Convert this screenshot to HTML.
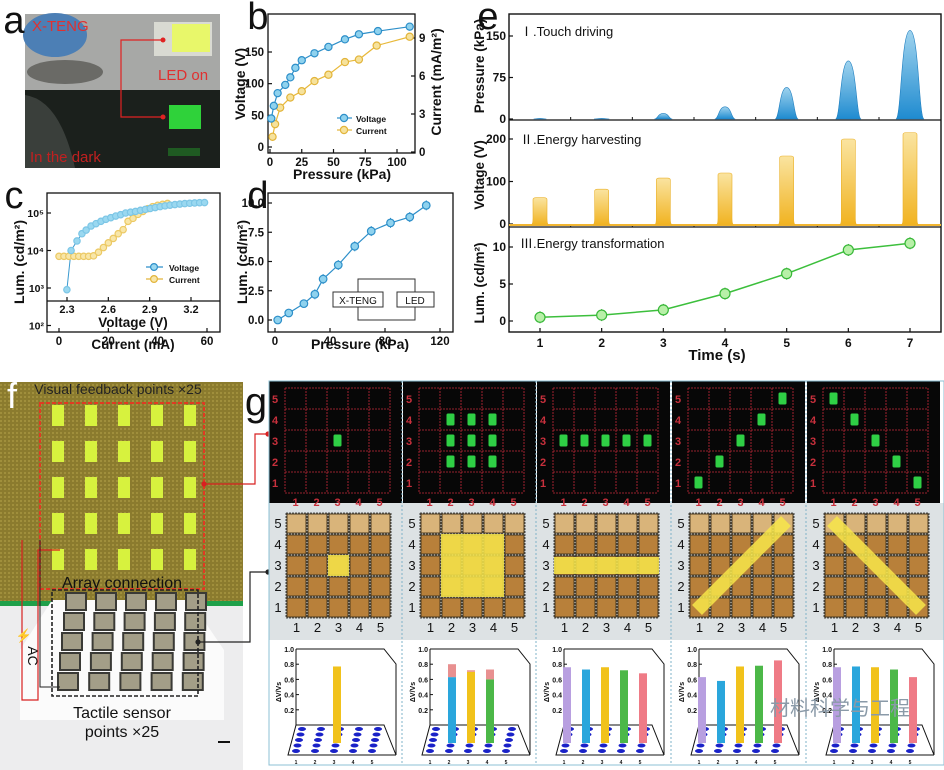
<!DOCTYPE html>
<html><head><meta charset="utf-8"><style>
html,body{margin:0;padding:0;background:#fff}
svg{display:block}
text{font-family:"Liberation Sans","Noto Sans CJK SC",sans-serif}
</style></head><body>
<svg id="fig" xmlns="http://www.w3.org/2000/svg" width="944" height="770" viewBox="0 0 944 770">
<defs>
<linearGradient id="gBlue" x1="0" y1="0" x2="0" y2="1"><stop offset="0" stop-color="#9fd3ee"/><stop offset="1" stop-color="#1f8bd0"/></linearGradient>
<linearGradient id="gYel" x1="0" y1="0" x2="0" y2="1"><stop offset="0" stop-color="#fae4a0"/><stop offset="1" stop-color="#f1b321"/></linearGradient>
<pattern id="weave" width="4" height="4" patternUnits="userSpaceOnUse"><rect width="4" height="4" fill="#8b7b2e"/><rect width="2" height="2" fill="#a08f3c"/></pattern>
</defs>
<g id="root"></g>
</svg>
<script>
// ---- panel b data
const bVP=[1,3,6,12,16,20,25,35,46,59,70,85,110];
const bV=[45,65,85,98,110,125,137,148,158,170,178,183,190];
const bCP=[2,4,8,16,25,35,46,59,70,84,110];
const bC=[1.2,2.2,3.5,4.3,4.8,5.6,6.1,7.1,7.3,8.4,9.1];
// ---- panel c data (x in current-axis units, lum)
const cVX=[3.2,4.9,7.3,9.3,11,13,15,17,19,21,23,25,27,29,31,33,35,37,39,41,43,45,47,49,51,53,55,57,59];
const cVL=[900,10000,18000,28000,35000,45000,52000,60000,68000,75000,83000,90000,100000,105000,110000,118000,125000,132000,140000,148000,155000,162000,168000,173000,178000,182000,185000,188000,190000];
const cCX=[0,2,4,6,8,10,12,14,16,18,20,22,24,26,28,30,32,34,36,38,40,42,44];
const cCL=[7000,7000,7000,7000,7000,7000,7000,7200,9000,12000,16000,21000,28000,36000,60000,72000,92000,110000,130000,148000,160000,170000,180000];
// ---- panel d data
const dP=[2,10,21,29,35,46,58,70,84,98,110];
const dL=[0,0.6,1.4,2.2,3.5,4.7,6.3,7.6,8.3,8.8,9.8];
// ---- panel e data
const eT=[1,2,3,4,5,6,7];
const ePres=[1,1,10,22,57,105,160];
const eVolt=[62,82,108,120,160,200,215];
const eLum=[0.5,0.8,1.5,3.7,6.4,9.6,10.5];
// ---- panel g data
const gVals=[[0,0,0.77,0,0],[0,0.63,0.7,0.6,0],[0.76,0.73,0.76,0.72,0.68],[0.63,0.58,0.77,0.78,0.85],[0.76,0.77,0.76,0.73,0.63]];
const gCaps=[[0,0,0,0,0],[0,0.8,0.72,0.73,0],[0,0,0,0,0],[0,0,0,0,0],[0,0,0,0,0]];
const gLit=[[[3,3]],[[2,2],[3,2],[4,2],[2,3],[3,3],[4,3],[2,4],[3,4],[4,4]],[[1,3],[2,3],[3,3],[4,3],[5,3]],[[1,1],[2,2],[3,3],[4,4],[5,5]],[[1,5],[2,4],[3,3],[4,2],[5,1]]];
const barColors=["#b89fe0","#2aa6dc","#f1c21b","#4cb848","#ef7b86"];

const NS="http://www.w3.org/2000/svg";
const root=document.getElementById('root');
function el(tag,attrs,parent,txt){const e=document.createElementNS(NS,tag);for(const k in attrs)e.setAttribute(k,attrs[k]);if(txt!==undefined)e.textContent=txt;(parent||root).appendChild(e);return e;}
function G(name,parent){const g=el('g',{},parent);


return g;}
function T(x,y,s,size,parent,opt){opt=opt||{};const t=el('text',{x:x,y:y,'font-size':size,'font-weight':opt.w||'bold','text-anchor':opt.a||'middle',fill:opt.f||'#111'},parent,s);if(opt.rot)t.setAttribute('transform','rotate('+opt.rot+' '+x+' '+y+')');


return t;}
function lin(d0,d1,p0,p1){return v=>p0+(v-d0)*(p1-p0)/(d1-d0);}
function line(x1,y1,x2,y2,c,w,p,extra){const l=el('line',Object.assign({x1,y1,x2,y2,stroke:c,'stroke-width':w||1},extra||{}),p);return l;}
function poly(xs,ys,c,p,w){el('polyline',{points:xs.map((x,i)=>x+','+ys[i]).join(' '),fill:'none',stroke:c,'stroke-width':w||1.2},p);}
function circ(x,y,r,fill,stroke,p,name){const c=el('circle',{cx:x,cy:y,r:r,fill:fill,stroke:stroke,'stroke-width':1.2},p);


return c;}

// ================= Panel a (photo)
(function(){const g=G('panel-a-photo');
el('rect',{x:25,y:14,width:195,height:76,fill:'#a7a8a6'},g);
el('rect',{x:25,y:90,width:195,height:78,fill:'#1b201c'},g);
el('ellipse',{cx:55,cy:35,rx:32,ry:22,fill:'#4c7fb5'},g);
el('ellipse',{cx:65,cy:72,rx:38,ry:12,fill:'#6a6a66'},g);
el('path',{d:'M25 95 Q60 100 75 168 L25 168Z',fill:'#3a3f3b'},g);
el('rect',{x:154,y:22,width:58,height:34,fill:'#d9dad2'},g);
el('rect',{x:172,y:24,width:38,height:28,fill:'#e8f76a'},g);
el('rect',{x:169,y:105,width:32,height:24,fill:'#2fd23a'},g);
el('rect',{x:168,y:148,width:32,height:8,fill:'#1f5a22'},g);
poly([163,121,121,163],[40,40,117,117],'#e02222',g,1.2);
circ(163,40,2.5,'#e02222','none',g,'connector-dot');circ(163,117,2.5,'#e02222','none',g,'connector-dot');
T(32,31,'X-TENG',15,g,{a:'start',f:'#e03030',w:'normal',name:'x-teng-label'});
T(158,80,'LED on',15,g,{a:'start',f:'#e03030',w:'normal',name:'led-on-label'});
T(30,162,'In the dark',15,g,{a:'start',f:'#c02020',w:'normal',name:'in-the-dark-label'});
T(14,33,'a',38,null,{a:'middle',w:'normal',name:'panel-a-letter'});
})();

// ================= Panel b
(function(){const g=G('panel-b-chart');
const L=268,R=415,Tp=14,B=153;
const x=lin(0,100,270,397),yV=lin(0,150,147,52),yC=lin(0,9,152,38);
el('rect',{x:L,y:Tp,width:R-L,height:B-Tp,fill:'none',stroke:'#111','stroke-width':1.3},g);
[0,25,50,75,100].forEach(v=>{line(x(v),B,x(v),B-4,'#111',1.2,g);T(x(v),B+13,v,11.5,g,{name:'x-tick-label'});});
[0,50,100,150].forEach(v=>{line(L,yV(v),L+4,yV(v),'#111',1.2,g);T(L-4,yV(v)+4,v,11.5,g,{a:'end',name:'y-tick-label'});});
[0,3,6,9].forEach(v=>{line(R,yC(v),R-4,yC(v),'#111',1.2,g);T(R+4,yC(v)+4,v,11.5,g,{a:'start',name:'y2-tick-label'});});
T(342,179,'Pressure (kPa)',14,g,{name:'x-axis-title'});
T(245,84,'Voltage (V)',14,g,{rot:-90,name:'y-axis-title'});
T(441,82,'Current (mA/m²)',14,g,{rot:-90,name:'y2-axis-title'});
poly(bVP.map(x),bV.map(yV),'#2d8fc9',g);
poly(bCP.map(x),bC.map(yC),'#e8b93a',g);
bCP.forEach((p,i)=>circ(x(p),yC(bC[i]),3.6,'#f6e29c','#e2b43a',g,'current-point'));
bVP.forEach((p,i)=>circ(x(p),yV(bV[i]),3.6,'#8fd2ee','#2d8fc9',g,'voltage-point'));
line(337,118,352,118,'#2d8fc9',1.2,g);circ(344,118,3.6,'#8fd2ee','#2d8fc9',g,'legend-voltage-marker');T(356,122,'Voltage',8.5,g,{a:'start',name:'legend-voltage'});
line(337,130,352,130,'#e2b43a',1.2,g);circ(344,130,3.6,'#f6e29c','#e2b43a',g,'legend-current-marker');T(356,134,'Current',8.5,g,{a:'start',name:'legend-current'});
T(258,29,'b',38,null,{w:'normal',name:'panel-b-letter'});
})();

// ================= Panel c
(function(){const g=G('panel-c-chart');
const L=47,R=220,Tp=193,B=332;
const x=lin(0,60,59,207),y=v=>288-(Math.log10(v)-3)*37.5;
el('rect',{x:L,y:Tp,width:R-L,height:B-Tp,fill:'none',stroke:'#111','stroke-width':1.3},g);
line(L,301,R,301,'#111',1.3,g);
[0,20,40,60].forEach(v=>{line(x(v),B,x(v),B-4,'#111',1.2,g);T(x(v),B+13,v,11.5,g,{name:'x-tick-label'});});
const xv=lin(2.3,3.2,67,191);
[2.3,2.6,2.9,3.2].forEach(v=>{line(xv(v),301,xv(v),297,'#111',1.2,g);T(xv(v),313,v.toFixed(1),11,g,{name:'voltage-tick-label'});});
T(133,327,'Voltage (V)',13.5,g,{name:'voltage-axis-title'});
T(133,349,'Current (mA)',13.5,g,{name:'x-axis-title'});
[[2,'10²'],[3,'10³'],[4,'10⁴'],[5,'10⁵']].forEach(a=>{const yy=288-(a[0]-3)*37.5;line(L,yy,L+4,yy,'#111',1.2,g);T(L-3,yy+4,a[1],10.5,g,{a:'end',name:'y-tick-label'});});
T(24,262,'Lum. (cd/m²)',14,g,{rot:-90,name:'y-axis-title'});
poly(cCX.map(x),cCL.map(y),'#e8c65a',g,1);
poly(cVX.map(x),cVL.map(y),'#3a9ad0',g,1);
cCX.forEach((p,i)=>circ(x(p),y(cCL[i]),3.2,'#f8e6a8','#ecc964',g,'current-point'));
cVX.forEach((p,i)=>circ(x(p),y(cVL[i]),3.2,'#9ad8f0','#7cc6e6',g,'voltage-point'));
line(146,267,163,267,'#2d8fc9',1.2,g);circ(154,267,3.4,'#9ad8f0','#2d8fc9',g,'legend-voltage-marker');T(169,271,'Voltage',8.5,g,{a:'start',name:'legend-voltage'});
line(146,279,163,279,'#e2b43a',1.2,g);circ(154,279,3.4,'#f8e6a8','#e2b43a',g,'legend-current-marker');T(169,283,'Current',8.5,g,{a:'start',name:'legend-current'});
T(14,208,'c',38,null,{w:'normal',name:'panel-c-letter'});
})();

// ================= Panel d
(function(){const g=G('panel-d-chart');
const L=268,R=453,Tp=193,B=332;
const x=lin(0,120,275,440),y=lin(0,10,320,203);
el('rect',{x:L,y:Tp,width:R-L,height:B-Tp,fill:'none',stroke:'#111','stroke-width':1.3},g);
[0,40,80,120].forEach(v=>{line(x(v),B,x(v),B-4,'#111',1.2,g);T(x(v),B+13,v,11.5,g,{name:'x-tick-label'});});
[0,2.5,5,7.5,10].forEach(v=>{line(L,y(v),L+4,y(v),'#111',1.2,g);T(L-4,y(v)+4,v.toFixed(1),11.5,g,{a:'end',name:'y-tick-label'});});
T(360,349,'Pressure (kPa)',14,g,{name:'x-axis-title'});
T(247,262,'Lum. (cd/m²)',14,g,{rot:-90,name:'y-axis-title'});
// inset circuit
el('rect',{x:358,y:279,width:57,height:41,fill:'none',stroke:'#333','stroke-width':1},g);
el('rect',{x:333,y:292,width:50,height:15,fill:'#fff',stroke:'#333','stroke-width':1},g);
el('rect',{x:397,y:292,width:37,height:15,fill:'#fff',stroke:'#333','stroke-width':1},g);
T(358,304,'X-TENG',10,g,{w:'normal',name:'inset-x-teng'});T(415,304,'LED',10,g,{w:'normal',name:'inset-led'});
poly(dP.map(x),dL.map(y),'#2d8fc9',g);
dP.forEach((p,i)=>{const yy=y(dL[i]);if(i>2){line(x(p),yy-5,x(p),yy+5,'#2d8fc9',1,g);}circ(x(p),yy,3.8,'#8fd2ee','#2d8fc9',g,'lum-point');});
T(258,208,'d',38,null,{w:'normal',name:'panel-d-letter'});
})();

// ================= Panel e
(function(){const g=G('panel-e-chart');
const L=509,R=941;
const x=lin(1,7,540,910);
el('rect',{x:L,y:14,width:R-L,height:318,fill:'none',stroke:'#111','stroke-width':1.4},g);
line(L,120,R,120,'#111',1.3,g);line(L,227,R,227,'#111',1.3,g);
[1,2,3,4,5,6,7].forEach(v=>{line(x(v),332,x(v),328,'#111',1.2,g);T(x(v),347,v,12,g,{name:'x-tick-label'});line(x(v)-31,120,x(v)-31,117,'#111',1,g);line(x(v)-31,227,x(v)-31,224,'#111',1,g);});
T(717,360,'Time (s)',15,g,{name:'x-axis-title'});
// pressure
const yP=lin(0,150,119,36);
[0,75,150].forEach(v=>{line(L,yP(v),L+4,yP(v),'#111',1.2,g);T(L-3,yP(v)+4,v,12,g,{a:'end',name:'pressure-tick'});});
T(484,66,'Pressure (kPa)',13.5,g,{rot:-90,name:'pressure-axis-title'});
eT.forEach((t,i)=>{const cx=x(t),h=yP(ePres[i]),w=4+i*0.8;
const p=el('path',{d:`M${cx-w*1.6} 119 C${cx-w} 119 ${cx-w} ${h} ${cx} ${h} C${cx+w} ${h} ${cx+w} 119 ${cx+w*1.6} 119Z`,fill:'url(#gBlue)',stroke:'#1f7fc0','stroke-width':0.6},g);

});
T(520,36,'Ⅰ.Touch  driving',13,g,{a:'start',w:'normal',name:'touch-driving-label'});
// voltage
const yVv=lin(0,200,224,139);
[0,100,200].forEach(v=>{line(L,yVv(v),L+4,yVv(v),'#111',1.2,g);T(L-3,yVv(v)+4,v,12,g,{a:'end',name:'voltage-tick'});});
T(484,175,'Voltage (V)',13.5,g,{rot:-90,name:'voltage-axis-title'});
line(L,225,R,225,'#f2b632',2,g);
eT.forEach((t,i)=>{const cx=x(t),h=yVv(eVolt[i]),w=7;
const p=el('path',{d:`M${cx-w-2} 225 Q${cx-w} 225 ${cx-w} 218 L${cx-w} ${h+2} Q${cx-w} ${h} ${cx-w+3} ${h} L${cx+w-3} ${h} Q${cx+w} ${h} ${cx+w} ${h+2} L${cx+w} 218 Q${cx+w} 225 ${cx+w+2} 225Z`,fill:'url(#gYel)',stroke:'#eab028','stroke-width':0.6},g);

});
T(520,144,'Ⅱ.Energy harvesting',13,g,{a:'start',w:'normal',name:'energy-harvesting-label'});
// lum
const yL=lin(0,10,321,247);
[0,5,10].forEach(v=>{line(L,yL(v),L+4,yL(v),'#111',1.2,g);T(L-3,yL(v)+4,v,12,g,{a:'end',name:'lum-tick'});});
T(484,283,'Lum. (cd/m²)',13.5,g,{rot:-90,name:'lum-axis-title'});
poly(eT.map(x),eLum.map(yL),'#3cbf3c',g,1.5);
eT.forEach((t,i)=>{const yy=yL(eLum[i]);line(x(t),yy-6,x(t),yy+6,'#2a8f2a',1,g);circ(x(t),yy,5,'#b8f0a8','#38b838',g,'lum-point');});
T(520,248,'Ⅲ.Energy transformation',13,g,{a:'start',w:'normal',name:'energy-transformation-label'});
T(488,29,'e',38,null,{w:'normal',name:'panel-e-letter'});
})();

// ================= Panel f (photo)
(function(){const g=G('panel-f-photo');
el('rect',{x:0,y:382,width:243,height:222,fill:'url(#weave)'},g);
el('rect',{x:0,y:601,width:243,height:5,fill:'#1fa04a'},g);
el('rect',{x:0,y:606,width:243,height:164,fill:'#ededee'},g);
el('path',{d:'M52 600 L190 600 L224 650 L224 720 L20 720 L20 650Z',fill:'#fbfbfb'},g);
el('rect',{x:40,y:403,width:164,height:186,fill:'none',stroke:'#e03a22','stroke-width':2,'stroke-dasharray':'4 2'},g);
for(let r=0;r<5;r++)for(let c=0;c<5;c++){const rr=el('rect',{x:52+c*33,y:405+r*36,width:12,height:21,fill:'#d7f23e'},g);

}
for(let r=0;r<5;r++)for(let c=0;c<5;c++){const rr=el('rect',{x:66+c*30-r*2+r*0.3*c,y:593+r*20,width:20,height:17,fill:'#a39e88',stroke:'#3a3a36','stroke-width':2},g);

}
el('rect',{x:52,y:590,width:146,height:106,fill:'none',stroke:'#222','stroke-width':1.6,'stroke-dasharray':'4 2'},g);
poly([22,22,38,38,60],[540,700,700,550,550],'#d82020',g,1.2);
poly([40,40,60],[540,687,687],'#222',g,1);
T(118,394,'Visual feedback points ×25',14,g,{w:'normal',f:'#222',name:'visual-feedback-label'});
T(122,588,'Array connection',16,g,{w:'normal',name:'array-connection-label'});
T(122,718,'Tactile sensor',16,g,{w:'normal',name:'tactile-sensor-label'});
T(122,737,'points ×25',16,g,{w:'normal',name:'points-label'});
T(24,640,'⚡',13,g,{f:'#f4c020',name:'ac-icon'});
T(28,656,'AC',14,g,{w:'normal',rot:90,name:'ac-label'});
line(218,742,230,742,'#111',2,g);
T(12,408,'f',36,null,{w:'normal',f:'#fff',name:'panel-f-letter'});
// connectors to g
poly([204,255,255,268],[484,484,434,434],'#d82020',g,1.2);circ(204,484,2.6,'#d82020','none',g,'connector-dot');circ(268,434,2.6,'#d82020','none',g,'connector-dot');
poly([198,250,250,268],[642,642,572,572],'#222',g,1.2);circ(198,642,2.6,'#222','none',g,'connector-dot');circ(268,572,2.6,'#222','none',g,'connector-dot');
})();

// ================= Panel g
(function(){const g=G('panel-g');
T(256,415,'g',40,null,{w:'normal',name:'panel-g-letter'});
const colX=[269,403,537,672,807],W=133;
el('rect',{x:269,y:503,width:675,height:137,fill:'#dde2e4'},g);
colX.forEach((cx,k)=>{
 const col=G('g-column-'+(k+1),g);
 // dark LED panel
 el('rect',{x:cx,y:381,width:W,height:122,fill:'#070707'},col);
 const gx=cx+16,gy=388,cw=21,ch=21;
 for(let i=0;i<=5;i++){line(gx+i*cw,gy,gx+i*cw,gy+5*ch,'#c62a3a',0.8,col,{'stroke-dasharray':'2 1'});line(gx,gy+i*ch,gx+5*cw,gy+i*ch,'#c62a3a',0.8,col,{'stroke-dasharray':'2 1'});}
 for(let i=1;i<=5;i++){T(cx+6,gy+(5-i)*ch+15,i,11,col,{f:'#c8303c',name:'led-row-label'});T(gx+(i-0.5)*cw,gy+5*ch+13,i,11,col,{f:'#c8303c',name:'led-col-label'});}
 gLit[k].forEach(p=>{const r=el('rect',{x:gx+(p[0]-0.5)*cw-4,y:gy+(5-p[1]+0.5)*ch-6,width:8,height:12,rx:1.5,fill:'#2fcf45'},col);
 
 });
 // sensor photo
 const px=cx+17,py=513,pw=21,ph=21;
 for(let r=0;r<5;r++)for(let c=0;c<5;c++){el('rect',{x:px+c*pw+1,y:py+r*ph+1,width:pw-2,height:ph-2,fill:r==0?'#d9b47a':'#b8803a',stroke:'#4a3a20','stroke-width':1},col);}
 for(let i=0;i<=5;i++){line(px+i*pw,py,px+i*pw,py+5*ph,'#222',0.8,col,{'stroke-dasharray':'2 1'});line(px,py+i*ph,px+5*pw,py+i*ph,'#222',0.8,col,{'stroke-dasharray':'2 1'});}
 for(let i=1;i<=5;i++){T(cx+9,py+(5-i)*ph+15,i,13,col,{w:'normal',name:'sensor-row-label'});T(px+(i-0.5)*pw,py+5*ph+14,i,13,col,{w:'normal',name:'sensor-col-label'});}
 const ov={fill:'#f7e64a','fill-opacity':0.85};
 if(k==0)el('rect',Object.assign({x:px+2*pw,y:py+2*ph,width:pw,height:ph},ov),col);
 if(k==1)el('rect',Object.assign({x:px+pw,y:py+pw,width:3*pw,height:3*ph},ov),col);
 if(k==2)el('rect',Object.assign({x:px,y:py+2*ph+2,width:5*pw,height:ph-4},ov),col);
 if(k==3)el('line',{x1:px+8,y1:py+5*ph-8,x2:px+5*pw-8,y2:py+8,stroke:'#f7e64a','stroke-width':14,'stroke-opacity':0.85},col);
 if(k==4)el('line',{x1:px+8,y1:py+8,x2:px+5*pw-8,y2:py+5*ph-8,stroke:'#f7e64a','stroke-width':14,'stroke-opacity':0.85},col);
 // bar chart
 el('rect',{x:cx,y:641,width:W,height:124,fill:'#fff'},col);
 const ax=cx+27,yB=lin(0,1,725,649);
 el('path',{d:`M${ax} 649 L${ax+88} 649 L${ax+100} 664 L${ax+100} 755 M${ax} 649 L${ax} 725 L${ax-8} 755 L${ax+100} 755 M${ax} 725 L${ax+88} 725 L${ax+100} 755`,fill:'none',stroke:'#111','stroke-width':1},col);
 [0.2,0.4,0.6,0.8,1.0].forEach(v=>{line(ax,yB(v),ax+3,yB(v),'#111',1,col);T(ax-2,yB(v)+3,v.toFixed(1),7,col,{a:'end',name:'bar-y-tick'});});
 T(cx+12,692,'ΔV/Vs',7,col,{rot:-90,name:'bar-y-title'});
 for(let r=0;r<5;r++)for(let c=0;c<5;c++){el('ellipse',{cx:ax+6+c*19-r*1.5,cy:729+r*5.5,rx:4,ry:2,fill:'#1a22c8'},col);}
 for(let i=1;i<=5;i++)T(ax+6+(i-1)*19-6,764,i,5,col,{name:'bar-x-tick'});
 gVals[k].forEach((v,i)=>{if(!v)return;const bx=ax+6+i*19-3;const b=el('rect',{x:bx-4,y:yB(v),width:8,height:743-yB(v),fill:barColors[i]},col);
 
 
 if(gCaps[k][i])el('rect',{x:bx-4,y:yB(gCaps[k][i]),width:8,height:yB(v)-yB(gCaps[k][i]),fill:'#e89090'},col);});
 if(k>0)line(cx-1,381,cx-1,765,'#7fb3c8',1,g,{'stroke-dasharray':'2 2'});
});
el('rect',{x:269,y:381,width:675,height:384,fill:'none',stroke:'#8cc0d4','stroke-width':1},g);
T(840,715,'材料科学与工程',20,g,{w:'normal',f:'#8a9aa8',name:'watermark'});
})();
</script>
</body></html>
